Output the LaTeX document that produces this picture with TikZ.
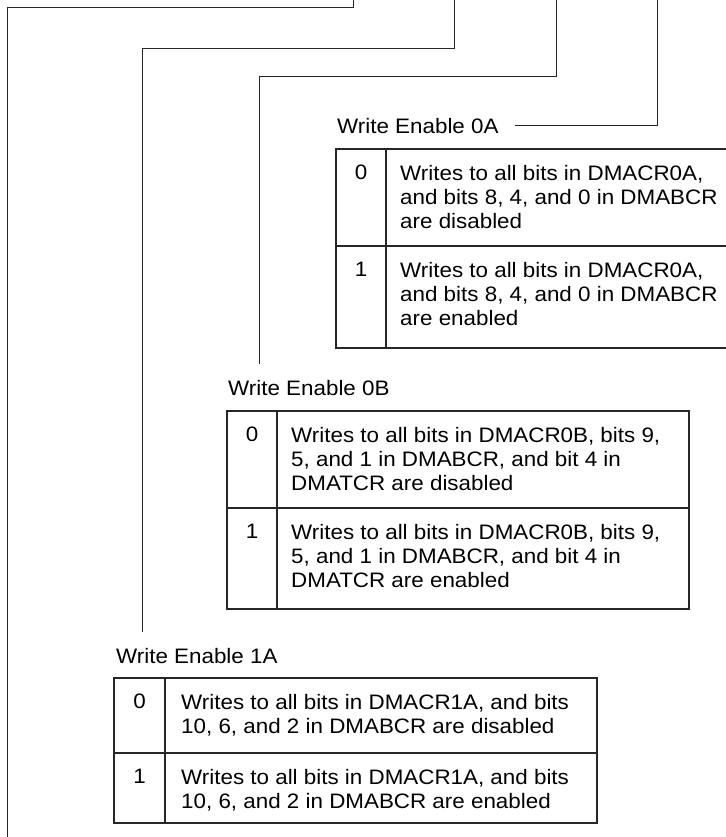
\documentclass[tikz,border=0pt]{standalone}
\usepackage{fontspec}
\setmainfont[FakeStretch=1.07]{Liberation Sans}
\begin{document}
\begin{tikzpicture}[x=1bp,y=-1bp,
  lbl/.style={font=\fontsize{21}{24}\selectfont, inner sep=0pt, anchor=base west},
  celltext/.style={font=\fontsize{21}{24}\selectfont, inner sep=0pt, anchor=north west, align=left},
  bitnum/.style={font=\fontsize{21}{24}\selectfont, inner sep=0pt, anchor=north},
  wire/.style={line width=1bp, black!85},
  tbl/.style={line width=1.1bp, black!85}]
\useasboundingbox (0,0) rectangle (726,837);
\clip (0,0) rectangle (726,837);
% free ends and bends
\coordinate (t1) at (353,0);
\coordinate (t2) at (454,0);
\coordinate (t3) at (556,0);
\coordinate (t4) at (657,0);
\coordinate (k1) at (7,7);
\coordinate (k2) at (142,48);
\coordinate (k3) at (259,76);
\coordinate (b1) at (7,840);
% labels
\node[lbl] (l0A) at (337,133) {Write Enable 0A};
\node[lbl] (l0B) at (228,395) {Write Enable 0B};
\node[lbl] (l1A) at (116,663) {Write Enable 1A};
% connectors
\draw[wire] (t4) |- ([xshift=16bp]l0A.east);
\draw[wire] (t3) |- (k3) -- ([yshift=16bp]k3 |- l0B.north);
\draw[wire] (t2) |- (k2) -- ([yshift=16bp]k2 |- l1A.north);
\draw[wire] (t1) |- (k1) -- (b1);
% table 0A
\draw[tbl] (336,149) rectangle (740,348);
\draw[tbl] (386,149) -- (386,348);
\draw[tbl] (336,246) -- (740,246);
\node[bitnum] (a0) at (361,165) {0};
\node[celltext] (a0t) at (400,165) {Writes to all bits in DMACR0A,\\and bits 8, 4, and 0 in DMABCR\\are disabled};
\node[bitnum] (a1) at (361,262) {1};
\node[celltext] (a1t) at (400,262) {Writes to all bits in DMACR0A,\\and bits 8, 4, and 0 in DMABCR\\are enabled};
% table 0B
\draw[tbl] (227,411) rectangle (689,609);
\draw[tbl] (277,411) -- (277,609);
\draw[tbl] (227,508) -- (689,508);
\node[bitnum] (b0) at (252,427) {0};
\node[celltext] (b0t) at (291,427) {Writes to all bits in DMACR0B, bits 9,\\5, and 1 in DMABCR, and bit 4 in\\DMATCR are disabled};
\node[bitnum] (b1n) at (252,524) {1};
\node[celltext] (b1t) at (291,524) {Writes to all bits in DMACR0B, bits 9,\\5, and 1 in DMABCR, and bit 4 in\\DMATCR are enabled};
% table 1A
\draw[tbl] (114,678) rectangle (597,823);
\draw[tbl] (165,678) -- (165,823);
\draw[tbl] (114,753) -- (597,753);
\node[bitnum] (c0) at (139.5,694) {0};
\node[celltext] (c0t) at (181,694) {Writes to all bits in DMACR1A, and bits\\10, 6, and 2 in DMABCR are disabled};
\node[bitnum] (c1) at (139.5,769) {1};
\node[celltext] (c1t) at (181,769) {Writes to all bits in DMACR1A, and bits\\10, 6, and 2 in DMABCR are enabled};
\end{tikzpicture}
\end{document}
